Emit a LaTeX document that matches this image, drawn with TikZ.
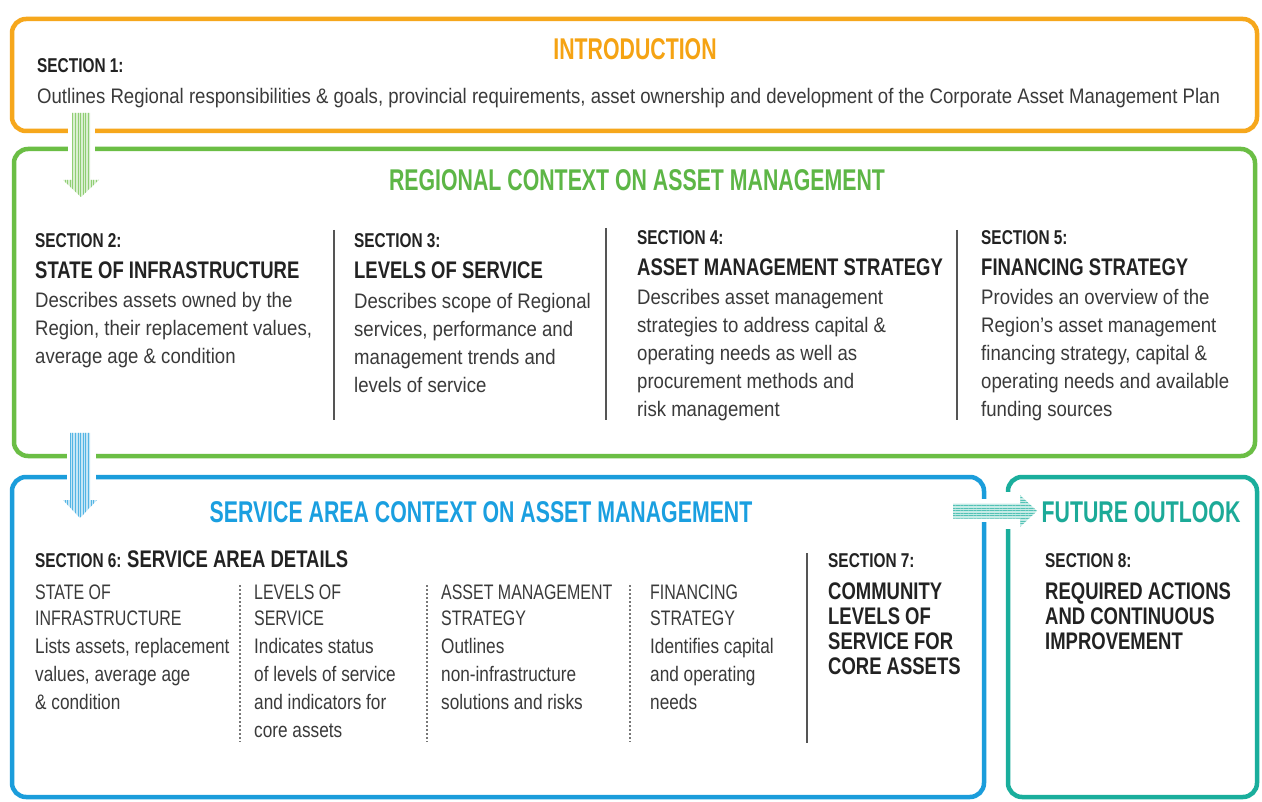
\documentclass[tikz,border=0pt]{standalone}
\usepackage{fontspec}
\setmainfont{Liberation Sans}
\newfontfamily\bodyfont{Liberation Sans}[FakeStretch=0.885]
\newfontfamily\subfont{Liberation Sans}[FakeStretch=0.82]
\newfontfamily\capsfont{Liberation Sans}[FakeStretch=0.76]
\newfontfamily\headfont{Liberation Sans}[FakeStretch=0.77]
\newfontfamily\titlefont{Liberation Sans}[FakeStretch=0.71]
\usetikzlibrary{patterns.meta}
\definecolor{cOrange}{HTML}{F6A71C}
\definecolor{cGreen}{HTML}{6BBE45}
\definecolor{cBlue}{HTML}{1B9DDB}
\definecolor{cTeal}{HTML}{1AAE9C}
\definecolor{cOrangeT}{HTML}{F5A313}
\definecolor{cGreenT}{HTML}{5DB646}
\definecolor{cBlueT}{HTML}{1A9FE0}
\definecolor{cTealT}{HTML}{1CAA98}
\definecolor{ink}{HTML}{222222}
\definecolor{bodyink}{HTML}{3A3A3A}
\definecolor{rulegray}{HTML}{555555}
\tikzset{
  box/.style={draw=#1, line width=4.5pt, rounded corners=14pt, anchor=north west,
    inner sep=0pt, outer sep=0pt},
  bigtitle/.style={font=\titlefont\bfseries\fontsize{30}{30}\selectfont, anchor=base, inner sep=0pt},
  sechead/.style={font=\headfont\bfseries\fontsize{20}{24}\selectfont, text=ink, anchor=base west, inner sep=0pt},
  sectitle/.style={font=\headfont\bfseries\fontsize{24}{25}\selectfont, text=ink, anchor=base west, inner sep=0pt, align=left},
  body/.style={font=\bodyfont\fontsize{21}{28}\selectfont, text=bodyink, anchor=base west, inner sep=0pt, align=left},
  subcaps/.style={font=\capsfont\fontsize{21}{26}\selectfont, text=bodyink, anchor=base west, inner sep=0pt, align=left},
  subbody/.style={font=\subfont\fontsize{21}{28}\selectfont, text=bodyink, anchor=base west, inner sep=0pt, align=left},
  sepline/.style={draw=rulegray, line width=1.5pt},
  dotline/.style={draw=rulegray!80, line width=1.3pt, dash pattern=on 1.5pt off 2.5pt},
  gap/.style={fill=white, draw=none},
  arrowfill/.style={preaction={fill=#1!25}, pattern color=#1!75},
}
\begin{document}
\begin{tikzpicture}[x=1pt,y=-1pt]
\fill[white] (0,0) rectangle (1262,802);
\useasboundingbox (0,0) rectangle (1262,802);

% boxes
\node[box=cOrange, minimum width=1245pt, minimum height=112pt] (intro) at (12,19) {};
\node[box=cGreen, minimum width=1241pt, minimum height=307pt] (regional) at (14,149) {};
\node[box=cBlue, minimum width=972pt, minimum height=320pt] (service) at (12,477) {};
\node[box=cTeal, minimum width=249pt, minimum height=320pt] (future) at (1008,477) {};

% gaps in borders where arrows pass
\fill[gap] (68,125) rectangle (95,156);
\fill[gap] (67,450) rectangle (96,484);
\fill[gap] (978,499) rectangle (990,522);
\fill[gap] (1002,492) rectangle (1015,529);

% arrows
\coordinate (a1s) at (81,113);
\coordinate (a2s) at (80,433);
\coordinate (a3s) at (953,511);
\path[arrowfill=cGreen, pattern={Lines[angle=90,distance=2.6pt,line width=1pt]}, shift={(a1s)}]
  (-9,0) -- (9,0) -- (9,67) -- (18,67) -- (0,84) -- (-18,67) -- (-9,67) -- cycle;
\path[arrowfill=cBlue, pattern={Lines[angle=90,distance=2.6pt,line width=1pt]}, shift={(a2s)}]
  (-10,0) -- (10,0) -- (10,67) -- (17,67) -- (0,85) -- (-17,67) -- (-10,67) -- cycle;
\path[arrowfill=cTeal, pattern={Lines[angle=0,distance=2.6pt,line width=1pt]}, shift={(a3s)}]
  (0,-7.5) -- (67,-7.5) -- (67,-16) -- (84,0) -- (67,16) -- (67,7.5) -- (0,7.5) -- cycle;

% introduction
\node[bigtitle, text=cOrangeT] (t1) at (635,60) {INTRODUCTION};
\node[sechead] (s1) at (37,73) {SECTION 1:};
\node[body] (d1) at (37,104) {Outlines Regional responsibilities \& goals, provincial requirements, asset ownership and development of the Corporate Asset Management Plan};

% regional context (multi-line nodes: base anchor = last line)
\node[bigtitle, text=cGreenT] (t2) at (637,191) {REGIONAL CONTEXT ON ASSET MANAGEMENT};
\node[sechead] (s2) at (35,248) {SECTION 2:};
\node[sectitle] (s2t) at (35,279) {STATE OF INFRASTRUCTURE};
\node[body] (s2d) at (35,364) {Describes assets owned by the\\Region, their replacement values,\\average age \& condition};
\node[sechead] (s3) at (354,248) {SECTION 3:};
\node[sectitle] (s3t) at (354,279) {LEVELS OF SERVICE};
\node[body] (s3d) at (354,392) {Describes scope of Regional\\services, performance and\\management trends and\\levels of service};
\node[sechead] (s4) at (637,245) {SECTION 4:};
\node[sectitle] (s4t) at (637,276) {ASSET MANAGEMENT STRATEGY};
\node[body] (s4d) at (637,417) {Describes asset management\\strategies to address capital \&\\operating needs as well as\\procurement methods and\\risk management};
\node[sechead] (s5) at (981,245) {SECTION 5:};
\node[sectitle] (s5t) at (981,276) {FINANCING STRATEGY};
\node[body] (s5d) at (981,417) {Provides an overview of the\\Region’s asset management\\financing strategy, capital \&\\operating needs and available\\funding sources};
\draw[sepline] (334,230) -- (334,420);
\draw[sepline] (606,228) -- (606,420);
\draw[sepline] (957,230) -- (957,420);

% service area context
\node[bigtitle, text=cBlueT] (t3) at (481,522) {SERVICE AREA CONTEXT ON ASSET MANAGEMENT};
\node[sechead] (s6) at (35,567) {SECTION 6:};
\node[sectitle] (s6t) at (127,567) {SERVICE AREA DETAILS};
\node[subcaps] (c6a) at (35,625) {STATE OF\\INFRASTRUCTURE};
\node[subbody] (b6a) at (35,709) {Lists assets, replacement\\values, average age\\\& condition};
\node[subcaps] (c6b) at (254,625) {LEVELS OF\\SERVICE};
\node[subbody] (b6b) at (254,737) {Indicates status\\of levels of service\\and indicators for\\core assets};
\node[subcaps] (c6c) at (441,625) {ASSET MANAGEMENT\\STRATEGY};
\node[subbody] (b6c) at (441,709) {Outlines\\non-infrastructure\\solutions and risks};
\node[subcaps] (c6d) at (650,625) {FINANCING\\STRATEGY};
\node[subbody] (b6d) at (650,709) {Identifies capital\\and operating\\needs};
\draw[dotline] (240,585) -- (240,742);
\draw[dotline] (427,585) -- (427,742);
\draw[dotline] (630,585) -- (630,742);
\draw[sepline] (807,553) -- (807,743);
\node[sechead] (s7) at (828,567) {SECTION 7:};
\node[sectitle] (s7t) at (828,674) {COMMUNITY\\LEVELS OF\\SERVICE FOR\\CORE ASSETS};

% future outlook
\node[bigtitle, text=cTealT] (t4) at (1141,522) {FUTURE OUTLOOK};
\node[sechead] (s8) at (1045,567) {SECTION 8:};
\node[sectitle] (s8t) at (1045,649) {REQUIRED ACTIONS\\AND CONTINUOUS\\IMPROVEMENT};
\end{tikzpicture}
\end{document}
